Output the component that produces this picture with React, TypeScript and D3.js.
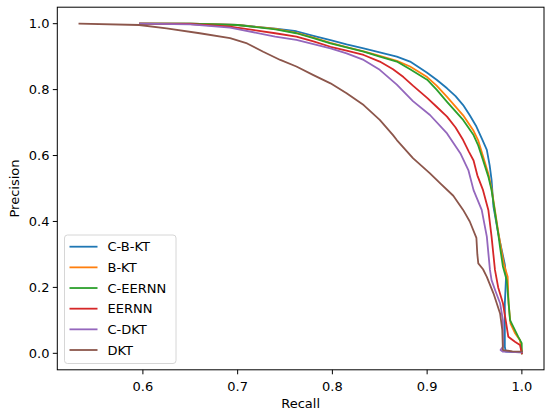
import React from "react";
import * as d3 from "d3";

type Pt = [number, number];

const seriesNames = ["C-B-KT", "B-KT", "C-EERNN", "EERNN", "C-DKT", "DKT"];
const seriesColors = ["#1f77b4", "#ff7f0e", "#2ca02c", "#d62728", "#9467bd", "#8c564b"];

// [recall, precision]
const cbktCurve: Pt[] = [
  [0.597, 1.0], [0.65, 1.0], [0.70, 0.996], [0.74, 0.985], [0.762, 0.977], [0.78, 0.963],
  [0.798, 0.95], [0.815, 0.937], [0.833, 0.925], [0.85, 0.913], [0.868, 0.9], [0.882, 0.885],
  [0.8996, 0.852], [0.91, 0.83], [0.921, 0.804], [0.93, 0.78], [0.938, 0.753], [0.945, 0.722],
  [0.952, 0.688], [0.958, 0.65], [0.963, 0.617], [0.966, 0.57], [0.968, 0.526], [0.97, 0.445],
  [0.975, 0.364], [0.979, 0.31], [0.982, 0.27], [0.9833, 0.232], [0.982, 0.15], [0.982, 0.08],
  [0.982, 0.02], [0.983, 0.005], [1.0, 0.003],
];
const bktCurve: Pt[] = [
  [0.597, 1.0], [0.65, 1.0], [0.70, 0.996], [0.74, 0.984], [0.762, 0.972], [0.78, 0.958],
  [0.798, 0.942], [0.815, 0.929], [0.833, 0.916], [0.85, 0.902], [0.868, 0.887], [0.882, 0.87],
  [0.9, 0.838], [0.91, 0.812], [0.921, 0.778], [0.938, 0.722], [0.949, 0.675], [0.954, 0.645],
  [0.959, 0.598], [0.9646, 0.545], [0.968, 0.5], [0.9715, 0.435], [0.975, 0.37], [0.978, 0.32],
  [0.981, 0.27], [0.985, 0.232], [0.986, 0.15], [0.988, 0.09], [0.993, 0.06], [0.998, 0.04],
  [1.0, 0.0],
];
const ceernnCurve: Pt[] = [
  [0.597, 1.0], [0.65, 1.0], [0.70, 0.996], [0.74, 0.983], [0.762, 0.971], [0.78, 0.956],
  [0.798, 0.94], [0.815, 0.928], [0.833, 0.915], [0.85, 0.9], [0.868, 0.885], [0.882, 0.862],
  [0.9, 0.83], [0.91, 0.8], [0.921, 0.763], [0.938, 0.708], [0.949, 0.662], [0.954, 0.63],
  [0.959, 0.586], [0.9646, 0.536], [0.968, 0.495], [0.9715, 0.43], [0.975, 0.364],
  [0.9769, 0.323], [0.98, 0.263], [0.984, 0.222], [0.9875, 0.101], [0.9962, 0.05],
  [0.9998, 0.031], [1.0, 0.0],
];
const eernnCurve: Pt[] = [
  [0.597, 1.0], [0.65, 0.999], [0.692, 0.991], [0.7396, 0.971], [0.762, 0.961], [0.78, 0.946],
  [0.798, 0.93], [0.815, 0.918], [0.833, 0.905], [0.85, 0.885], [0.864, 0.862], [0.875, 0.838],
  [0.885, 0.812], [0.9, 0.775], [0.91, 0.748], [0.921, 0.718], [0.93, 0.685], [0.938, 0.647],
  [0.944, 0.612], [0.949, 0.585], [0.953, 0.54], [0.959, 0.495], [0.9646, 0.435],
  [0.968, 0.354], [0.9716, 0.253], [0.975, 0.2], [0.98, 0.152], [0.9829, 0.101],
  [0.9857, 0.05], [0.9927, 0.035], [0.998, 0.025], [1.0, 0.0],
];
const cdktCurve: Pt[] = [
  [0.597, 1.0], [0.65, 0.998], [0.692, 0.988], [0.7396, 0.961], [0.762, 0.951], [0.78, 0.938],
  [0.798, 0.925], [0.815, 0.91], [0.833, 0.89], [0.85, 0.86], [0.868, 0.815], [0.885, 0.765],
  [0.903, 0.723], [0.921, 0.667], [0.935, 0.607], [0.9435, 0.556], [0.949, 0.495],
  [0.9576, 0.435], [0.963, 0.354], [0.9663, 0.253], [0.968, 0.222], [0.972, 0.19],
  [0.977, 0.152], [0.98, 0.1], [0.98, 0.02], [0.9775, 0.01], [0.98, 0.005], [1.0, 0.003],
];
const dktCurve: Pt[] = [
  [0.533, 1.0], [0.596, 0.996], [0.625, 0.986], [0.66, 0.971], [0.692, 0.956], [0.71, 0.94],
  [0.727, 0.915], [0.745, 0.89], [0.762, 0.87], [0.78, 0.844], [0.798, 0.819], [0.815, 0.789],
  [0.833, 0.753], [0.85, 0.708], [0.864, 0.662], [0.868, 0.647], [0.885, 0.592],
  [0.903, 0.546], [0.9136, 0.516], [0.9276, 0.478], [0.938, 0.435], [0.945, 0.4],
  [0.952, 0.35], [0.953, 0.3], [0.954, 0.273], [0.959, 0.255], [0.963, 0.232], [0.97, 0.182],
  [0.977, 0.121], [0.9793, 0.071], [0.98, 0.01], [0.99, 0.006], [1.0, 0.005],
];

const seriesCurves = [cbktCurve, bktCurve, ceernnCurve, eernnCurve, cdktCurve, dktCurve];

const xTicks = [0.6, 0.7, 0.8, 0.9, 1.0];
const yTicks = [0.0, 0.2, 0.4, 0.6, 0.8, 1.0];
const xLabel = "Recall";
const yLabel = "Precision";

const W = 550;
const H = 417;
const FONT = "'DejaVu Sans', sans-serif";

export default function App() {
  const all = seriesCurves.flat();
  const [x0, x1] = d3.extent(all, (d) => d[0]) as [number, number];
  const [y0, y1] = d3.extent(all, (d) => d[1]) as [number, number];
  const mx = (x1 - x0) * 0.05;
  const my = (y1 - y0) * 0.05;
  const left = 57.3, right = 544, top = 7.2, bottom = 369.8;
  const x = d3.scaleLinear().domain([x0 - mx, x1 + mx]).range([left, right]);
  const y = d3.scaleLinear().domain([y0 - my, y1 + my]).range([bottom, top]);
  const line = d3.line<Pt>().x((d) => x(d[0])).y((d) => y(d[1]));

  const legX = 64.5, legY = 235, legW = 111.5, legH = 128.5;
  const rowY = (i: number) => 246.7 + i * 20.66;

  return (
    <svg
      width={W}
      height={H}
      viewBox={`0 0 ${W} ${H}`}
      style={{ position: "fixed", left: 0, top: 0, background: "#fff" }}
      fontFamily={FONT}
    >
      <rect x={0} y={0} width={W} height={H} fill="#fff" />
      {seriesCurves.map((c, i) => (
        <path
          key={seriesNames[i]}
          d={line(c) || ""}
          fill="none"
          stroke={seriesColors[i]}
          strokeWidth={1.8}
          strokeLinejoin="round"
          strokeLinecap="square"
        />
      ))}
      {/* spines */}
      <rect
        x={left}
        y={top}
        width={right - left}
        height={bottom - top}
        fill="none"
        stroke="#000"
        strokeWidth={1}
      />
      {/* x ticks */}
      {xTicks.map((t) => (
        <g key={"x" + t}>
          <line x1={x(t)} x2={x(t)} y1={bottom} y2={bottom + 4.5} stroke="#000" strokeWidth={1} />
          <text x={x(t)} y={390.5} fontSize={13} textAnchor="middle" fill="#000">
            {t.toFixed(1)}
          </text>
        </g>
      ))}
      {/* y ticks */}
      {yTicks.map((t) => (
        <g key={"y" + t}>
          <line x1={left - 4.5} x2={left} y1={y(t)} y2={y(t)} stroke="#000" strokeWidth={1} />
          <text x={49.5} y={y(t) + 4.7} fontSize={13} textAnchor="end" fill="#000">
            {t.toFixed(1)}
          </text>
        </g>
      ))}
      <text x={(left + right) / 2} y={408} fontSize={13} textAnchor="middle" fill="#000">
        {xLabel}
      </text>
      <text
        transform={`translate(18.5, ${(top + bottom) / 2}) rotate(-90)`}
        fontSize={13}
        textAnchor="middle"
        fill="#000"
      >
        {yLabel}
      </text>
      {/* legend */}
      <rect
        x={legX}
        y={legY}
        width={legW}
        height={legH}
        rx={3}
        fill="#fff"
        fillOpacity={0.8}
        stroke="#d6d6d6"
        strokeWidth={1}
      />
      {seriesNames.map((n, i) => (
        <g key={"leg" + n}>
          <line x1={69.5} x2={97.5} y1={rowY(i)} y2={rowY(i)} stroke={seriesColors[i]} strokeWidth={1.8} />
          <text x={107.5} y={rowY(i) + 4.7} fontSize={13} fill="#000">
            {n}
          </text>
        </g>
      ))}
    </svg>
  );
}
